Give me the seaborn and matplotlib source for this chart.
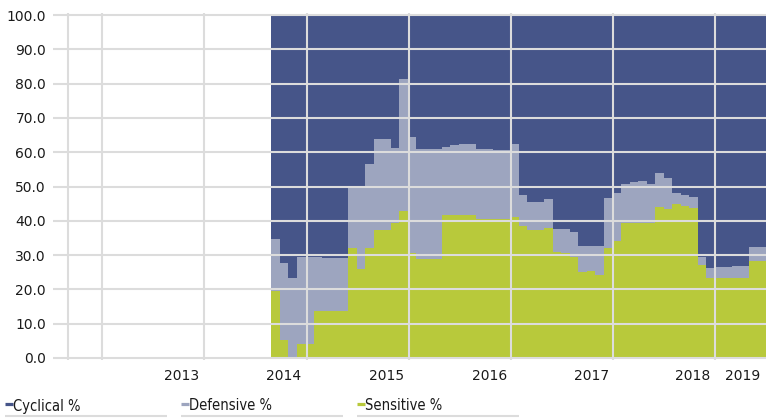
import numpy as np
import pandas as pd
import matplotlib
matplotlib.use("Agg")
import matplotlib.pyplot as plt
from matplotlib.lines import Line2D
import seaborn as sns

sectors = ['Cyclical %', 'Defensive %', 'Sensitive %']
colors = ['#465589', '#9da5bf', '#b8c93b']

# monthly sector weights (%)
sensitive = [19.5, 5.2, 0.0, 4.0, 4.0, 13.7, 13.7, 13.7, 13.7, 32.0,
             26.0, 32.0, 37.3, 37.3, 39.3, 42.9, 30.6, 29.0, 29.0, 29.0,
             41.6, 41.8, 41.6, 41.6, 40.5, 40.5, 40.4, 40.4, 41.1, 38.6,
             37.3, 37.3, 37.8, 30.8, 30.6, 29.5, 25.2, 25.4, 24.3, 32.2,
             34.1, 39.5, 39.5, 39.5, 39.5, 43.9, 43.3, 44.8, 44.3, 43.8,
             27.2, 23.4, 23.4, 23.4, 23.4, 23.4, 28.3, 28.3]
defensive = [15.1, 22.4, 23.2, 25.5, 25.5, 15.8, 15.5, 15.5, 15.5, 18.0,
             24.0, 24.6, 26.5, 26.5, 21.8, 38.4, 33.7, 31.8, 31.8, 31.8,
             19.8, 20.3, 20.7, 20.7, 20.3, 20.3, 20.2, 20.2, 21.2, 8.9,
             8.1, 8.1, 8.6, 6.8, 7.0, 7.1, 7.5, 7.3, 8.4, 14.5,
             14.1, 11.1, 11.7, 12.1, 11.1, 9.9, 9.1, 3.2, 3.2, 3.0,
             2.3, 2.7, 3.0, 3.2, 3.5, 3.5, 4.2, 4.2]
cyclical = [65.4, 72.4, 76.8, 70.5, 70.5, 70.5, 70.8, 70.8, 70.8, 50.0,
            50.0, 43.4, 36.2, 36.2, 38.9, 18.7, 35.7, 39.2, 39.2, 39.2,
            38.6, 37.9, 37.7, 37.7, 39.2, 39.2, 39.4, 39.4, 37.7, 52.5,
            54.6, 54.6, 53.6, 62.4, 62.4, 63.4, 67.3, 67.3, 67.3, 53.3,
            51.8, 49.4, 48.8, 48.4, 49.4, 46.2, 47.6, 52.0, 52.5, 53.2,
            70.5, 73.9, 73.6, 73.4, 73.1, 73.1, 67.5, 67.5]

year_labels = ['2013', '2014', '2015', '2016', '2017', '2018', '2019']

months = np.arange(len(sensitive))
df = pd.DataFrame({
    'month': np.tile(months, 3),
    'sector': np.repeat(sectors, len(months)),
    'value': cyclical + defensive + sensitive,
})

sns.set_style('white')
W, H = 766, 418
fig = plt.figure(figsize=(W / 100, H / 100), dpi=100)
ax = fig.add_axes([53 / W, 58.3 / H, 713 / W, 346.4 / H])

sns.histplot(df, x='month', weights='value', hue='sector', hue_order=sectors,
             palette=colors, multiple='stack', element='step', binwidth=1,
             binrange=(0, len(months)), alpha=1, linewidth=0, legend=False, ax=ax)

ax.set_xlim(-25.58, len(months))
ax.set_ylim(-0.5, 100.5)
ax.set_xlabel('')
ax.set_ylabel('')
for s in ax.spines.values():
    s.set_visible(False)

grid_c = '#dcdcdc'
ax.set_yticks(np.arange(0, 101, 10))
ax.set_yticklabels([f'{v:.1f}' for v in np.arange(0, 101, 10)])
ax.set_xticks([-23.8, -19.8, -7.9, 4.15, 16.1, 28.15, 40.1, 52.05])
ax.set_xticklabels([])
ax.set_xticks([-10.5, 1.5, 13.5, 25.6, 37.5, 49.4, 55.3], minor=True)
ax.set_xticklabels(year_labels, minor=True)
ax.grid(True, which='major', color=grid_c, linewidth=1.5)
ax.set_axisbelow(False)
ax.tick_params(axis='y', length=0, pad=5, labelsize=10, labelcolor='#1a1a1a')
ax.tick_params(axis='x', which='major', length=10, width=1.5, color=grid_c)
ax.tick_params(axis='x', which='minor', length=0, pad=7, labelsize=10, labelcolor='#1a1a1a')

# legend along the bottom
def fx(px):
    return px / W

def fy(py):
    return 1 - py / H

for i, (name, c) in enumerate(zip(sectors, colors)):
    x0 = 5 + i * 176
    fig.add_artist(Line2D([fx(x0), fx(x0 + 7.5)], [fy(403.5)] * 2, color=c, lw=2.3,
                          solid_capstyle='butt'))
    fig.add_artist(Line2D([fx(x0), fx(x0 + 162)], [fy(416)] * 2, color=grid_c, lw=1.5,
                          solid_capstyle='butt'))
    fig.text(fx(x0 + 8), fy(410.5), name, va='baseline', ha='left', fontsize=10.5,
             color='#1a1a1a', family='DejaVu Sans', fontstretch='condensed')

fig.savefig('out.png', dpi=100)
